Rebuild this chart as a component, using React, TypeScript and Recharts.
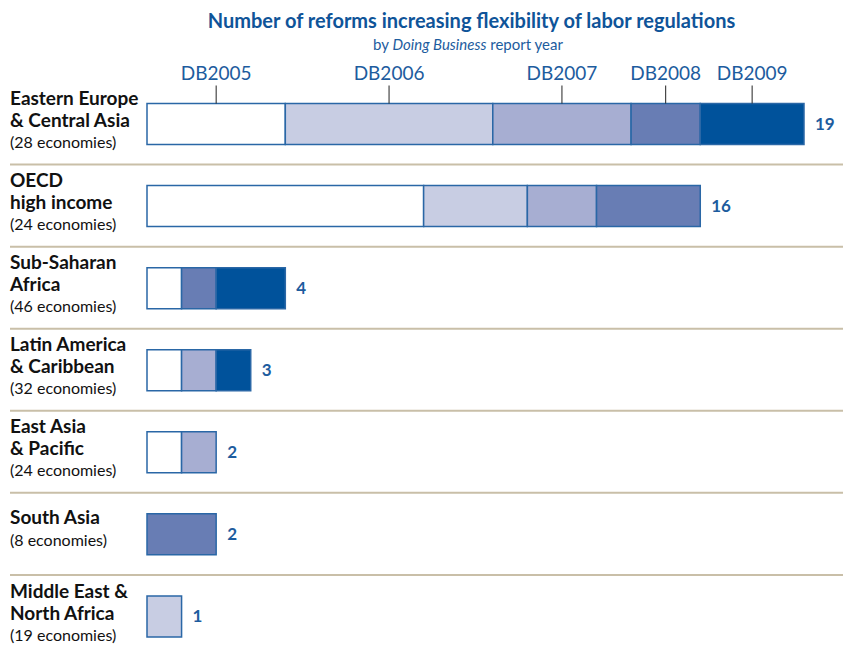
import React from 'react';
import { BarChart, Bar, XAxis, YAxis, LabelList } from 'recharts';

const regions = [
  'Eastern Europe & Central Asia',
  'OECD high income',
  'Sub-Saharan Africa',
  'Latin America & Caribbean',
  'East Asia & Pacific',
  'South Asia',
  'Middle East & North Africa',
];

const regionLines = [
  ['Eastern Europe', '& Central Asia'],
  ['OECD', 'high income'],
  ['Sub-Saharan', 'Africa'],
  ['Latin America', '& Caribbean'],
  ['East Asia', '& Pacific'],
  ['South Asia'],
  ['Middle East &', 'North Africa'],
];

const economies = [28, 24, 46, 32, 24, 8, 19];

const years = ['DB2005', 'DB2006', 'DB2007', 'DB2008', 'DB2009'];
const db2005 = [4, 8, 1, 1, 1, 0, 0];
const db2006 = [6, 3, 0, 0, 0, 0, 1];
const db2007 = [4, 2, 0, 1, 1, 0, 0];
const db2008 = [2, 3, 1, 0, 0, 2, 0];
const db2009 = [3, 0, 2, 1, 0, 0, 0];

const colors = ['#ffffff', '#c8cde3', '#a7aed2', '#687db4', '#00529b'];
const BLUE = '#1d5c9e';
const FONT = 'Lato, "Open Sans", sans-serif';

const data = regions.map((region, i) => ({
  region,
  DB2005: db2005[i],
  DB2006: db2006[i],
  DB2007: db2007[i],
  DB2008: db2008[i],
  DB2009: db2009[i],
}));

const totals = data.map((d) => years.reduce((s, k) => s + (d as any)[k], 0));

function lastKey(i: number) {
  let key = '';
  years.forEach((k) => {
    if ((data[i] as any)[k] > 0) key = k;
  });
  return key;
}

function RegionTick(props: any) {
  const { y, payload, index } = props;
  const half = payload && payload.offset ? payload.offset : 41;
  const lines = regionLines[index];
  const offs = lines.length === 2 ? [-25, -3, 19] : [-17, 7];
  return (
    <g>
      {lines.map((t, j) => (
        <text
          key={j}
          x={10}
          y={y + offs[j]}
          dy="0.35em"
          fontFamily={FONT}
          fontWeight="bold"
          fontSize={19}
          fill="#111"
        >
          {t}
        </text>
      ))}
      <text
        x={10}
        y={y + offs[lines.length]}
        dy="0.35em"
        fontFamily={FONT}
        fontSize={16}
        fill="#111"
      >
        ({economies[index]} economies)
      </text>
      {index < regions.length - 1 && (
        <line x1={10} x2={843} y1={y + half} y2={y + half} stroke="#c9bfa8" strokeWidth={2} />
      )}
    </g>
  );
}

function makeLabel(key: string) {
  return (props: any) => {
    const { x, y, width, height, value } = props;
    const row = regions.indexOf(value);
    if (row < 0 || !(width > 0)) return null;
    const out: React.ReactNode[] = [];
    if (row === 0) {
      const cx = x + width / 2;
      out.push(
        <line key="t" x1={cx} x2={cx} y1={y - 18} y2={y} stroke="#222" strokeWidth={1} />,
        <text
          key="l"
          x={cx}
          y={y - 30}
          textAnchor="middle"
          dy="0.35em"
          fontFamily={FONT}
          fontSize={19}
          fill={BLUE}
        >
          {key}
        </text>
      );
    }
    if (lastKey(row) === key) {
      out.push(
        <text
          key="v"
          x={x + width + 11}
          y={y + height / 2}
          dy="0.35em"
          fontFamily={FONT}
          fontWeight="bold"
          fontSize={17}
          fill={BLUE}
        >
          {totals[row]}
        </text>
      );
    }
    return <g>{out}</g>;
  };
}

export default function App() {
  return (
    <div style={{ position: 'absolute', left: 0, top: 0, width: 843, height: 648, background: '#fff' }}>
      <div
        style={{
          position: 'absolute',
          left: 0,
          width: 943,
          top: 8,
          textAlign: 'center',
          fontFamily: FONT,
          fontWeight: 'bold',
          fontSize: 20,
          color: '#0f5499',
          lineHeight: '24px',
        }}
      >
        Number of reforms increasing flexibility of labor regulations
      </div>
      <div
        style={{
          position: 'absolute',
          left: 0,
          width: 936,
          top: 35,
          textAlign: 'center',
          fontFamily: FONT,
          fontSize: 15,
          color: BLUE,
          lineHeight: '18px',
        }}
      >
        by <i>Doing Business</i> report year
      </div>
      <BarChart
        layout="vertical"
        width={843}
        height={648}
        data={data}
        margin={{ top: 82.5, right: 39, bottom: -9, left: 0 }}
        barSize={41}
        style={{ position: 'absolute', left: 0, top: 0 }}
      >
        <XAxis type="number" domain={[0, 19]} hide />
        <YAxis
          type="category"
          dataKey="region"
          width={147}
          axisLine={false}
          tickLine={false}
          interval={0}
          tick={<RegionTick />}
        />
        {years.map((k, i) => (
          <Bar
            key={k}
            dataKey={k}
            stackId="a"
            fill={colors[i]}
            stroke="#2a67a6"
            strokeWidth={1.5}
            isAnimationActive={false}
          >
            <LabelList dataKey="region" content={makeLabel(k)} />
          </Bar>
        ))}
      </BarChart>
    </div>
  );
}
